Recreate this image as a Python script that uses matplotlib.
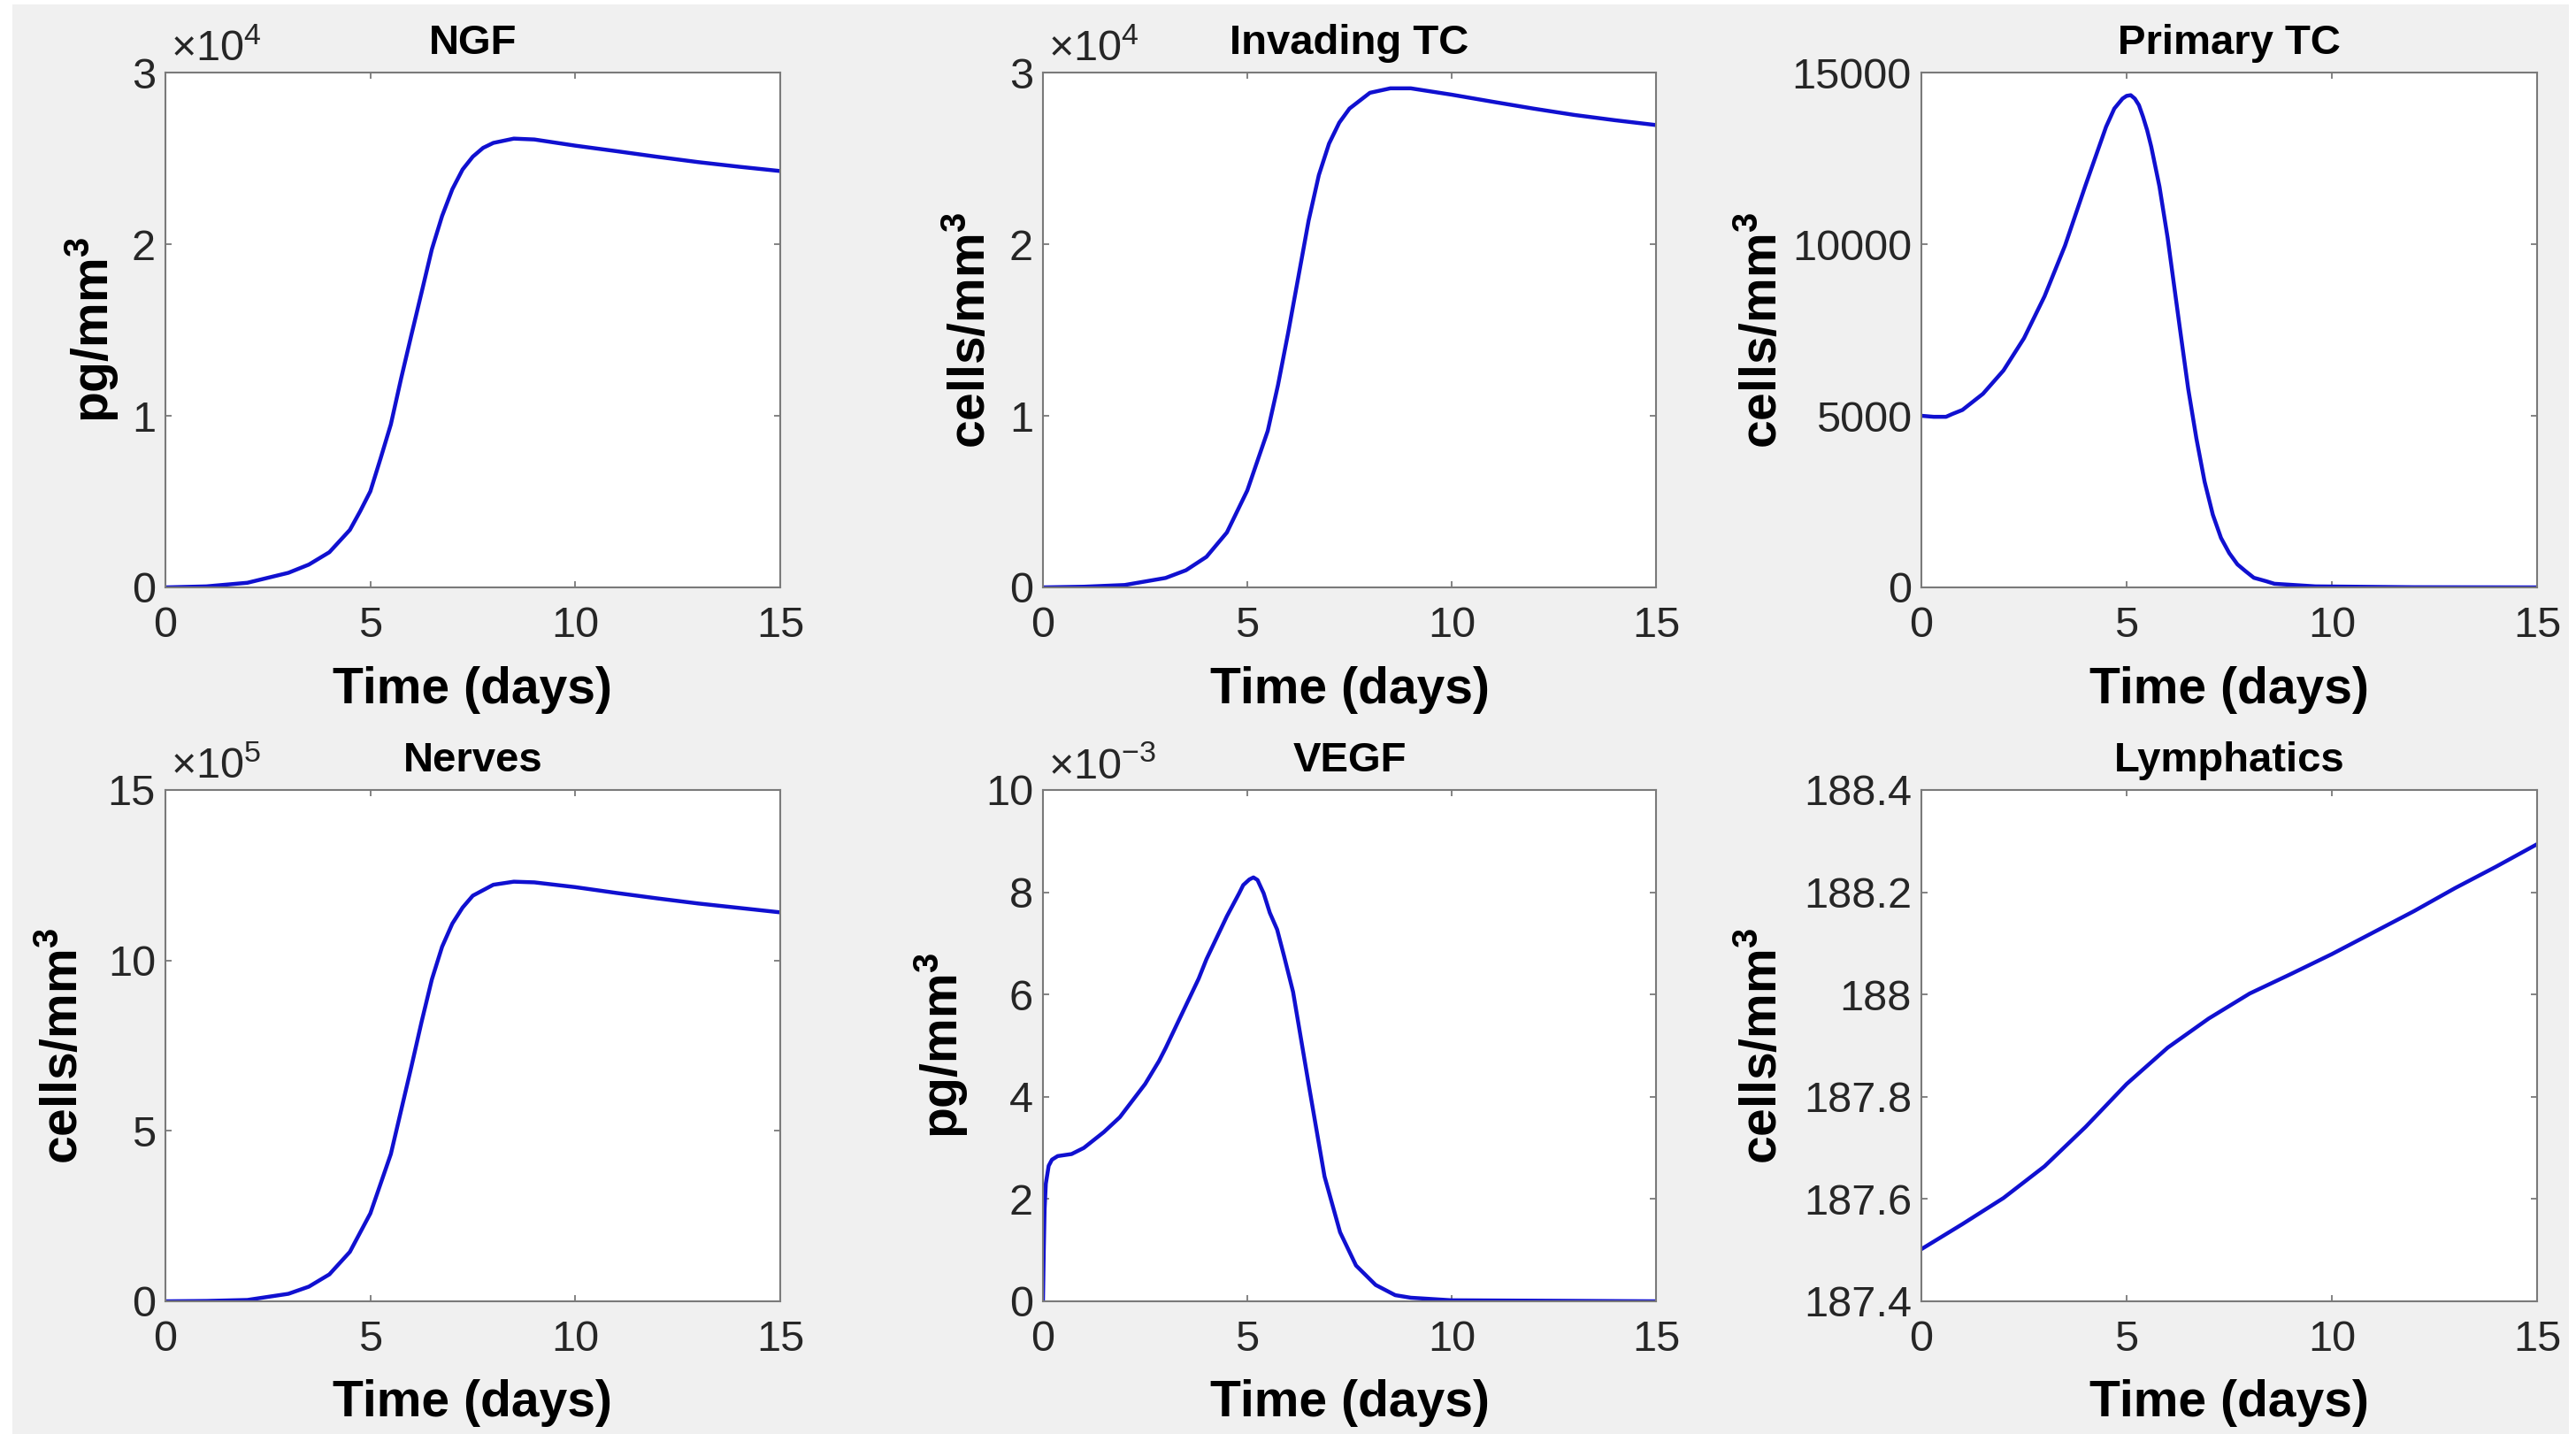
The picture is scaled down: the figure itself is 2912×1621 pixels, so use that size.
import numpy as np
import matplotlib as mpl
import matplotlib.pyplot as plt
from matplotlib.patches import Rectangle
from matplotlib.ticker import FuncFormatter

# ---------------- data ----------------
ngf_t = [0, 1, 2, 3, 3.5, 4, 4.5, 4.75, 5, 5.25, 5.5, 5.75, 6, 6.25, 6.5, 6.75, 7, 7.25, 7.5, 7.75,
         8, 8.5, 9, 10, 11, 12, 13, 14, 15]
ngf = [0, 60, 270, 850, 1330, 2050, 3350, 4430, 5600, 7520, 9500, 12170, 14700, 17190, 19700, 21640,
       23200, 24350, 25100, 25610, 25900, 26150, 26100, 25740, 25420, 25090, 24780, 24510, 24260]

inv_t = [0, 1, 2, 3, 3.5, 4, 4.5, 5, 5.5, 5.75, 6, 6.25, 6.5, 6.75, 7, 7.25, 7.5, 8, 8.5, 9,
         10, 11, 12, 13, 14, 15]
inv = [0, 40, 140, 550, 1000, 1780, 3200, 5650, 9120, 11780, 14840, 18100, 21370, 24020, 25860,
       27080, 27900, 28820, 29080, 29080, 28710, 28300, 27900, 27530, 27220, 26940]

ptc_t = [0, 0.3, 0.6, 0.75, 1.0, 1.5, 2.0, 2.5, 3.0, 3.5, 4.0, 4.5, 4.7, 4.9, 5.0, 5.1,
         5.2, 5.3, 5.4, 5.5, 5.6, 5.8, 6.0, 6.3, 6.5, 6.7, 6.9, 7.1, 7.3, 7.5, 7.7, 7.9, 8.1, 8.4,
         8.6, 9.6, 12, 15]
ptc = [5000, 4970, 4970, 5050, 5170, 5640, 6320, 7260, 8480, 9960, 11720, 13420,
       13950, 14240, 14320, 14340, 14240, 14050, 13710, 13320, 12840, 11680, 10180, 7530, 5790,
       4340, 3080, 2120, 1440, 1000, 670, 470, 280, 180, 106, 30, 5, 0]

nrv_t = [0, 1, 2, 3, 3.5, 4, 4.5, 5, 5.5, 5.75, 6, 6.25, 6.5, 6.75, 7, 7.25, 7.5, 8, 8.5, 9,
         10, 11, 12, 13, 14, 15]
nrv = [0, 0.01e5, 0.04e5, 0.22e5, 0.43e5, 0.79e5, 1.45e5, 2.58e5, 4.32e5, 5.6e5, 6.88e5, 8.2e5,
       9.44e5, 10.4e5, 11.08e5, 11.55e5, 11.9e5, 12.22e5, 12.31e5, 12.29e5, 12.15e5, 11.98e5,
       11.82e5, 11.67e5, 11.54e5, 11.41e5]

vegf_t = [0, 0.02, 0.04, 0.07, 0.14, 0.22, 0.36, 0.7, 1.0, 1.49, 1.88, 2.5, 2.84, 3.0, 3.5, 3.81,
          4.0, 4.5, 4.8, 4.9, 5.05, 5.15, 5.25, 5.4, 5.55, 5.73, 5.9, 6.12, 6.5, 6.89, 7.27,
          7.66, 8.14, 8.62, 9.0, 10, 15]
vegf = [0, 1.0e-3, 1.8e-3, 2.3e-3, 2.65e-3, 2.77e-3, 2.84e-3, 2.88e-3, 3.0e-3, 3.31e-3, 3.6e-3,
        4.25e-3, 4.7e-3, 4.95e-3, 5.79e-3, 6.31e-3, 6.69e-3, 7.53e-3, 7.98e-3, 8.14e-3, 8.25e-3,
        8.29e-3, 8.24e-3, 7.98e-3, 7.6e-3, 7.27e-3, 6.75e-3, 6.05e-3, 4.25e-3, 2.44e-3, 1.35e-3,
        0.70e-3, 0.32e-3, 0.12e-3, 0.07e-3, 0.02e-3, 0]

lym_t = [0, 1, 2, 3, 4, 5, 6, 7, 8, 9, 10, 11, 12, 13, 14, 15]
lym = [187.502, 187.551, 187.602, 187.664, 187.741, 187.825, 187.896, 187.953, 188.002,
       188.040, 188.079, 188.121, 188.163, 188.208, 188.250, 188.294]

titles = ['NGF', 'Invading TC', 'Primary TC', 'Nerves', 'VEGF', 'Lymphatics']
ylabels = [r'pg/mm$^\mathbf{3}$', r'cells/mm$^\mathbf{3}$', r'cells/mm$^\mathbf{3}$',
           r'cells/mm$^\mathbf{3}$', r'pg/mm$^\mathbf{3}$', r'cells/mm$^\mathbf{3}$']
times = [ngf_t, inv_t, ptc_t, nrv_t, vegf_t, lym_t]
values = [ngf, inv, ptc, nrv, vegf, lym]
yticks = [[0, 1e4, 2e4, 3e4], [0, 1e4, 2e4, 3e4], [0, 5000, 10000, 15000],
          [0, 5e5, 10e5, 15e5], [0, 2e-3, 4e-3, 6e-3, 8e-3, 10e-3],
          [187.4, 187.6, 187.8, 188.0, 188.2, 188.4]]
scales = [1e4, 1e4, 1, 1e5, 1e-3, 1]
offsets = [r'$\times10^{4}$', r'$\times10^{4}$', None, r'$\times10^{5}$', r'$\times10^{-3}$', None]
xticks = [0, 5, 10, 15]

# ---------------- layout (pixels of the 2912x1621 picture) ----------------
W, H = 2912, 1621
col_left = [187, 1179, 2172]
col_w = [695, 693, 696]
row_top = [82, 893]
row_h = [582, 578]
ylab_x = [-0.072, -0.077, -0.217, -0.125, -0.118, -0.217]

mpl.rcParams['font.family'] = ['Liberation Sans', 'DejaVu Sans']
mpl.rcParams['mathtext.fontset'] = 'custom'
mpl.rcParams['mathtext.rm'] = 'Liberation Sans'
mpl.rcParams['mathtext.it'] = 'Liberation Sans:italic'
mpl.rcParams['mathtext.bf'] = 'Liberation Sans:bold'

fig = plt.figure(figsize=(W / 100, H / 100), dpi=100)
fig.patch.set_facecolor('white')
# grey panel behind the axes, thin white margin left/top/right like the export
bg = Rectangle((14 / W, 0), 1 - 22 / W, 1 - 5 / H, transform=fig.transFigure,
               facecolor='#f0f0f0', edgecolor='none', zorder=-10)
fig.add_artist(bg)

edge = '#7a7a7a'
tick_txt = '#262626'

for i in range(6):
    r, c = divmod(i, 3)
    rect = [col_left[c] / W, 1 - (row_top[r] + row_h[r]) / H, col_w[c] / W, row_h[r] / H]
    ax = fig.add_axes(rect)
    ax.set_facecolor('white')

    ax.plot(times[i], values[i], color='#1010d0', linewidth=3.2)

    ax.set_xlim(0, 15)
    ax.set_ylim(yticks[i][0], yticks[i][-1])
    ax.set_xticks(xticks)
    ax.set_yticks(yticks[i])
    s = scales[i]
    ax.yaxis.set_major_formatter(FuncFormatter(lambda v, p, s=s: '%g' % round(v / s, 6)))

    for sp in ax.spines.values():
        sp.set_color(edge)
        sp.set_linewidth(1.5)
    ax.tick_params(direction='in', length=5, width=1.3, color=edge, labelcolor=tick_txt,
                   labelsize=35, top=True, right=True)
    ax.tick_params(axis='x', pad=15)
    ax.tick_params(axis='y', pad=8)

    ax.set_title(titles[i], fontsize=34, fontweight='bold', pad=15)
    ax.set_xlabel('Time (days)', fontsize=41, fontweight='bold')
    ax.xaxis.set_label_coords(0.5, -0.153)
    ax.set_ylabel(ylabels[i], fontsize=41, fontweight='bold')
    ax.yaxis.set_label_coords(ylab_x[i], 0.5)

    if offsets[i]:
        ax.text(0.008, 1.022, offsets[i], transform=ax.transAxes, fontsize=35,
                color=tick_txt, ha='left', va='baseline')

plt.savefig('out.png', dpi=100, facecolor=fig.get_facecolor())
